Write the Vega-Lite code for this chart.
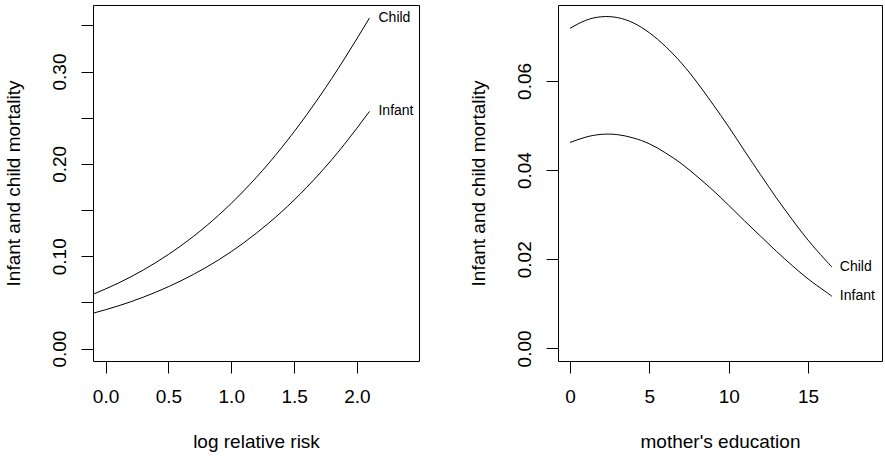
{
  "$schema": "https://vega.github.io/schema/vega-lite/v6.json",
  "autosize": {"type": "pad"},
  "padding": {"left": 3, "top": 4, "right": 0, "bottom": 0},
  "background": "white",
  "config": {
    "view": {"stroke": "black", "strokeWidth": 1},
    "font": "Liberation Sans",
    "concat": {"spacing": 48},
    "axis": {
      "domain": false,
      "grid": false,
      "ticks": true,
      "tickColor": "black",
      "tickSize": 12,
      "tickWidth": 1,
      "labelFont": "Liberation Sans",
      "labelFontSize": 19,
      "labelColor": "black",
      "labelOverlap": false,
      "labelFlush": false,
      "labelBound": false,
      "titleFont": "Liberation Sans",
      "titleFontSize": 19,
      "titleFontWeight": "normal",
      "titleColor": "black"
    }
  },
  "datasets": {
    "risk": [
      {"x": -0.1, "y": 0.0588, "series": "Child"},
      {"x": 0.1, "y": 0.0708, "series": "Child"},
      {"x": 0.3, "y": 0.0851, "series": "Child"},
      {"x": 0.5, "y": 0.1019, "series": "Child"},
      {"x": 0.7, "y": 0.1216, "series": "Child"},
      {"x": 0.9, "y": 0.1445, "series": "Child"},
      {"x": 1.1, "y": 0.1709, "series": "Child"},
      {"x": 1.3, "y": 0.2009, "series": "Child"},
      {"x": 1.5, "y": 0.2348, "series": "Child"},
      {"x": 1.7, "y": 0.2724, "series": "Child"},
      {"x": 1.9, "y": 0.3136, "series": "Child"},
      {"x": 2.1, "y": 0.3579, "series": "Child"},
      {"x": -0.1, "y": 0.0383, "series": "Infant"},
      {"x": 0.1, "y": 0.0462, "series": "Infant"},
      {"x": 0.3, "y": 0.0557, "series": "Infant"},
      {"x": 0.5, "y": 0.0670, "series": "Infant"},
      {"x": 0.7, "y": 0.0804, "series": "Infant"},
      {"x": 0.9, "y": 0.0961, "series": "Infant"},
      {"x": 1.1, "y": 0.1146, "series": "Infant"},
      {"x": 1.3, "y": 0.1361, "series": "Infant"},
      {"x": 1.5, "y": 0.1608, "series": "Infant"},
      {"x": 1.7, "y": 0.1891, "series": "Infant"},
      {"x": 1.9, "y": 0.2211, "series": "Infant"},
      {"x": 2.1, "y": 0.2568, "series": "Infant"}
    ],
    "edu": [
      {"x": 0, "y": 0.0718, "series": "Child"},
      {"x": 1, "y": 0.0736, "series": "Child"},
      {"x": 2, "y": 0.0744, "series": "Child"},
      {"x": 3, "y": 0.0742, "series": "Child"},
      {"x": 4, "y": 0.0730, "series": "Child"},
      {"x": 5, "y": 0.0708, "series": "Child"},
      {"x": 6, "y": 0.0678, "series": "Child"},
      {"x": 7, "y": 0.0641, "series": "Child"},
      {"x": 8, "y": 0.0597, "series": "Child"},
      {"x": 9, "y": 0.0548, "series": "Child"},
      {"x": 10, "y": 0.0497, "series": "Child"},
      {"x": 11, "y": 0.0443, "series": "Child"},
      {"x": 12, "y": 0.0390, "series": "Child"},
      {"x": 13, "y": 0.0338, "series": "Child"},
      {"x": 14, "y": 0.0289, "series": "Child"},
      {"x": 15, "y": 0.0243, "series": "Child"},
      {"x": 16, "y": 0.0202, "series": "Child"},
      {"x": 16.5, "y": 0.0183, "series": "Child"},
      {"x": 0, "y": 0.0462, "series": "Infant"},
      {"x": 1, "y": 0.0474, "series": "Infant"},
      {"x": 2, "y": 0.04802, "series": "Infant"},
      {"x": 3, "y": 0.04795, "series": "Infant"},
      {"x": 4, "y": 0.0472, "series": "Infant"},
      {"x": 5, "y": 0.0459, "series": "Infant"},
      {"x": 6, "y": 0.0439, "series": "Infant"},
      {"x": 7, "y": 0.0415, "series": "Infant"},
      {"x": 8, "y": 0.0386, "series": "Infant"},
      {"x": 9, "y": 0.0355, "series": "Infant"},
      {"x": 10, "y": 0.0321, "series": "Infant"},
      {"x": 11, "y": 0.0286, "series": "Infant"},
      {"x": 12, "y": 0.0252, "series": "Infant"},
      {"x": 13, "y": 0.0218, "series": "Infant"},
      {"x": 14, "y": 0.0186, "series": "Infant"},
      {"x": 15, "y": 0.0156, "series": "Infant"},
      {"x": 16, "y": 0.0130, "series": "Infant"},
      {"x": 16.5, "y": 0.0117, "series": "Infant"}
    ]
  },
  "hconcat": [
    {
      "width": 326,
      "height": 356,
      "data": {"name": "risk"},
      "encoding": {
        "x": {
          "field": "x", "type": "quantitative",
          "scale": {"domain": [-0.1, 2.494], "nice": false, "zero": false},
          "axis": {"title": "log relative risk", "values": [0, 0.5, 1, 1.5, 2], "format": ".1f", "labelPadding": 14, "titlePadding": 26}
        },
        "y": {
          "field": "y", "type": "quantitative",
          "scale": {"domain": [-0.0134, 0.372], "nice": false, "zero": false},
          "axis": {"title": "Infant and child mortality", "values": [0, 0.05, 0.1, 0.15, 0.2, 0.25, 0.3, 0.35], "labelExpr": "round(datum.value*100) % 10 == 0 ? format(datum.value, '.2f') : ''", "labelAngle": -90, "labelPadding": 12, "titlePadding": 27}
        }
      },
      "layer": [
        {
          "mark": {"type": "line", "color": "black", "strokeWidth": 1, "interpolate": "natural"},
          "encoding": {"detail": {"field": "series"}}
        },
        {
          "transform": [{"filter": "datum.x == 2.1"}],
          "mark": {"type": "text", "align": "left", "baseline": "middle", "dx": 9, "fontSize": 14, "font": "Liberation Sans", "color": "black"},
          "encoding": {"text": {"field": "series"}}
        }
      ]
    },
    {
      "width": 324,
      "height": 356,
      "data": {"name": "edu"},
      "encoding": {
        "x": {
          "field": "x", "type": "quantitative",
          "scale": {"domain": [-0.756, 19.66], "nice": false, "zero": false},
          "axis": {"title": "mother's education", "values": [0, 5, 10, 15], "format": "d", "labelPadding": 14, "titlePadding": 26}
        },
        "y": {
          "field": "y", "type": "quantitative",
          "scale": {"domain": [-0.00282, 0.07703], "nice": false, "zero": false},
          "axis": {"title": "Infant and child mortality", "values": [0, 0.02, 0.04, 0.06], "format": ".2f", "labelAngle": -90, "labelPadding": 12, "titlePadding": 27}
        }
      },
      "layer": [
        {
          "mark": {"type": "line", "color": "black", "strokeWidth": 1, "interpolate": "natural"},
          "encoding": {"detail": {"field": "series"}}
        },
        {
          "transform": [{"filter": "datum.x == 16.5"}],
          "mark": {"type": "text", "align": "left", "baseline": "middle", "dx": 8, "fontSize": 14, "font": "Liberation Sans", "color": "black"},
          "encoding": {"text": {"field": "series"}}
        }
      ]
    }
  ]
}
